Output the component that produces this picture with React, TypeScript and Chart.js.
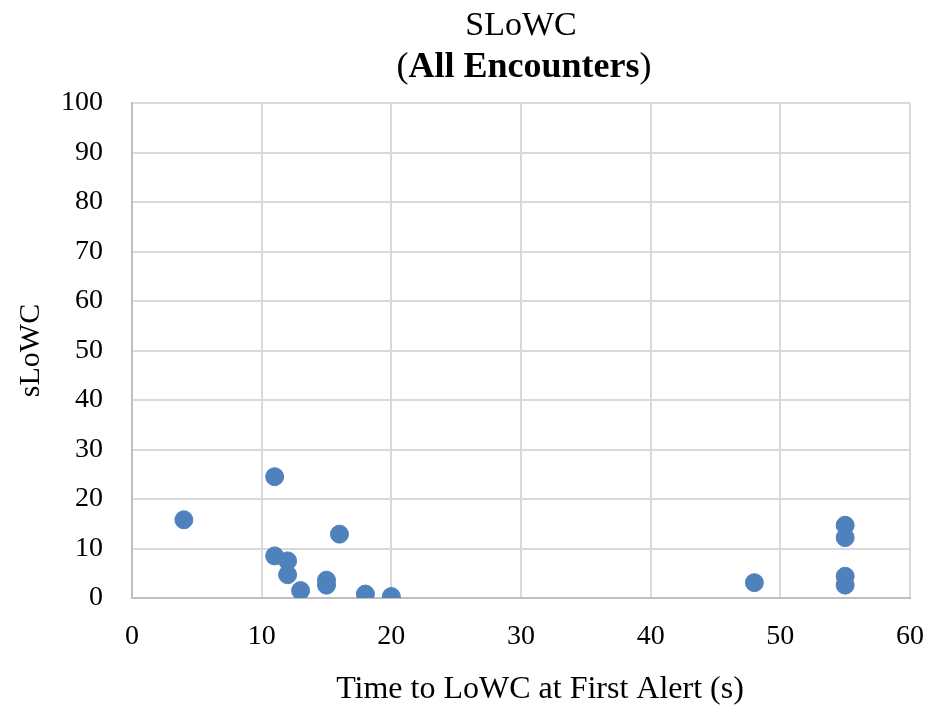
import React, { useEffect, useRef } from "react";
import { Chart, registerables } from "chart.js";

Chart.register(...registerables);

const xValues = [4, 11, 11, 12, 12, 13, 15, 15, 16, 18, 20, 48, 55, 55, 55, 55];
const yValues = [15.8, 24.5, 8.5, 7.5, 4.7, 1.5, 3.6, 2.6, 12.9, 0.8, 0.3, 3.1, 14.7, 12.2, 4.4, 2.6];
const titleLine1 = "SLoWC";
const titleLine2Parts = ["(", "All Encounters", ")"];
const xAxisTitle = "Time to LoWC at First Alert (s)";
const yAxisTitle = "sLoWC";

const SERIF = "'Liberation Serif', 'Times New Roman', serif";

const titlePlugin = {
  id: "mixedTitle",
  afterDraw(chart: any) {
    const ctx = chart.ctx;
    const area = chart.chartArea;
    const cx = (area.left + area.right) / 2;
    ctx.save();
    ctx.fillStyle = "#000";
    ctx.textBaseline = "alphabetic";
    ctx.textAlign = "center";
    ctx.font = `34px ${SERIF}`;
    ctx.fillText(titleLine1, cx, 35);
    const fonts = [`36px ${SERIF}`, `bold 36px ${SERIF}`, `36px ${SERIF}`];
    let total = 0;
    const widths = titleLine2Parts.map((t, i) => {
      ctx.font = fonts[i];
      const w = ctx.measureText(t).width;
      total += w;
      return w;
    });
    let x = cx + 3 - total / 2;
    ctx.textAlign = "left";
    titleLine2Parts.forEach((t, i) => {
      ctx.font = fonts[i];
      ctx.fillText(t, x, 77);
      x += widths[i];
    });
    // x-axis title (offset to the right like the source)
    ctx.textAlign = "center";
    ctx.textBaseline = "middle";
    ctx.font = `32px ${SERIF}`;
    ctx.fillText(xAxisTitle, cx + 19, 690);
    ctx.restore();
  },
};

export default function App() {
  const ref = useRef<HTMLCanvasElement | null>(null);
  useEffect(() => {
    document.body.style.margin = "0";
    if (!ref.current) return;
    const chart = new Chart(ref.current, {
      type: "scatter",
      data: {
        datasets: [
          {
            data: xValues.map((x, i) => ({ x, y: yValues[i] })),
            backgroundColor: "#4f81bd",
            borderColor: "#4f81bd",
            pointRadius: 9,
            pointHoverRadius: 9,
          },
        ],
      },
      options: {
        animation: false,
        responsive: false,
        layout: { padding: { top: 103, right: 30, left: 16, bottom: 0 } },
        plugins: { legend: { display: false }, tooltip: { enabled: false }, title: { display: false } },
        scales: {
          x: {
            type: "linear",
            min: 0,
            max: 60,
            afterFit: (scale: any) => {
              scale.height = 108;
              scale.paddingRight = 0;
            },
            ticks: { stepSize: 10, color: "#000", font: { family: SERIF, size: 28 }, padding: 22 },
            grid: { color: "#d9d9d9", lineWidth: 2, drawTicks: false },
            border: { color: "#bfbfbf", width: 2 },
            title: { display: false, text: xAxisTitle },
          },
          y: {
            min: 0,
            max: 100,
            afterFit: (scale: any) => {
              scale.width = 116;
            },
            ticks: { stepSize: 10, color: "#000", font: { family: SERIF, size: 28 }, padding: 29 },
            grid: { color: "#d9d9d9", lineWidth: 2, drawTicks: false },
            border: { color: "#bfbfbf", width: 2 },
            title: { display: true, text: yAxisTitle, color: "#000", font: { family: SERIF, size: 30, lineHeight: 1 }, padding: { top: 0, bottom: 0 } },
          },
        },
      },
      plugins: [titlePlugin],
    });
    return () => chart.destroy();
  }, []);
  return <canvas ref={ref} width={940} height={706} style={{ display: "block" }} />;
}
